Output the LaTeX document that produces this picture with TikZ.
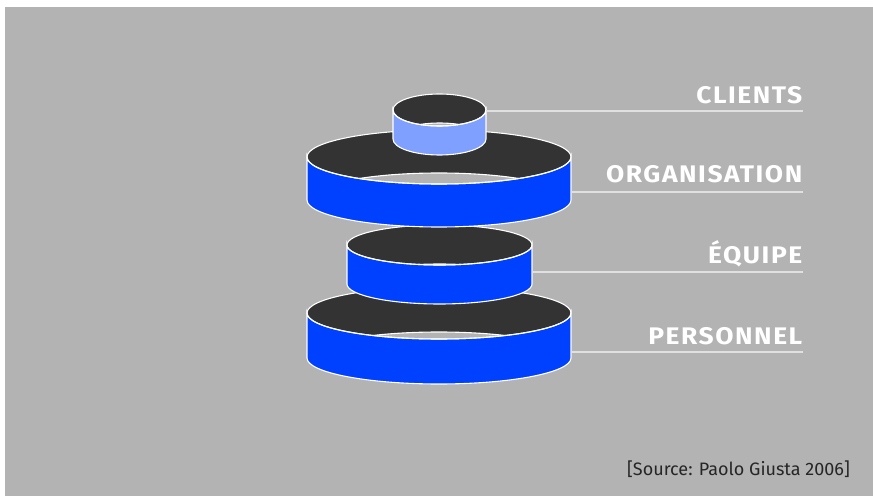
\documentclass[tikz,border=0pt]{standalone}
\usepackage{fontspec}
\setmainfont{Fira Sans}
\newfontfamily\labelfont[FakeStretch=1.1, LetterSpace=6.5]{Fira Sans}
\begin{document}
\begin{tikzpicture}[x=1pt,y=1pt,
  ringline/.style={white, line width=1.1pt},
  labeltext/.style={anchor=base east, inner sep=0pt, text=white, font=\labelfont\fontsize{24}{28}\selectfont\bfseries},
  leader/.style={draw=black!12, line width=1.6pt}]
\definecolor{bggrey}{RGB}{179,179,179}
\definecolor{innerdark}{RGB}{51,51,51}
\definecolor{ringblue}{RGB}{0,64,255}
\definecolor{ringlight}{RGB}{128,160,255}
\useasboundingbox (0,0) rectangle (873,496);
\fill[white] (0,0) rectangle (873,496);
\fill[bggrey] (5,0) rectangle (873,489);

% hollow open cylinder: #1 cx, #2 top-centre y, #3 rx, #4 ry, #5 height, #6 wall colour
\newcommand{\hollowring}[6]{%
  % inner back wall
  \fill[innerdark] (#1,#2) ellipse[x radius=#3pt, y radius=#4pt];
  % bottom opening seen through the ring
  \begin{scope}
    \clip (#1,#2) ellipse[x radius=#3pt, y radius=#4pt];
    \fill[bggrey] (#1,#2-#5) ellipse[x radius=#3pt, y radius=#4pt];
    \draw[ringline] (#1,#2-#5) ellipse[x radius=#3pt, y radius=#4pt];
  \end{scope}
  % front wall
  \path[fill=#6, draw=white, line width=1.1pt]
    (#1-#3,#2) arc[start angle=180, end angle=360, x radius=#3pt, y radius=#4pt]
    -- (#1+#3,#2-#5)
    arc[start angle=0, end angle=-180, x radius=#3pt, y radius=#4pt] -- cycle;
  % rim
  \draw[ringline] (#1,#2) ellipse[x radius=#3pt, y radius=#4pt];
}

% stack, drawn from the bottom up
\hollowring{439}{183}{132}{26}{45}{ringblue}
\hollowring{439.5}{251}{92.5}{20}{39}{ringblue}
\hollowring{439}{339}{132}{27}{43}{ringblue}
\hollowring{439.5}{386}{46.5}{16}{29}{ringlight}

% leader line anchors
\coordinate (c1) at (486,385);
\coordinate (c2) at (571,304);
\coordinate (c3) at (532,224);
\coordinate (c4) at (571,144);
\coordinate (e1) at (803,385);
\coordinate (e2) at (803,304);
\coordinate (e3) at (803,224);
\coordinate (e4) at (803,144);

\draw[leader] (c1) -- (e1);
\draw[leader] (c2) -- (e2);
\draw[leader] (c3) -- (e3);
\draw[leader] (c4) -- (e4);

\node[labeltext] (l1) at (802.5,392) {CLIENTS};
\node[labeltext] (l2) at (802.5,313) {ORGANISATION};
\node[labeltext] (l3) at (802.5,232) {ÉQUIPE};
\node[labeltext] (l4) at (802.5,152) {PERSONNEL};

\node[anchor=base east, inner sep=0pt, text=black!85, font=\fontsize{18}{21}\selectfont] (src) at (850,21) {[Source: Paolo Giusta 2006]};
\end{tikzpicture}
\end{document}
